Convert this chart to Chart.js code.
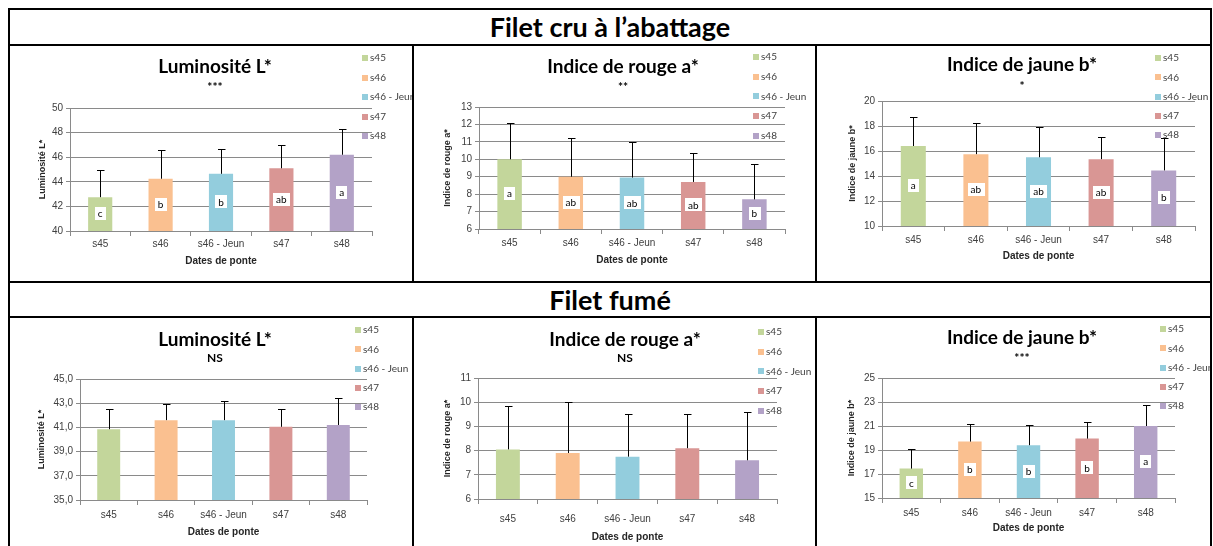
<!DOCTYPE html>
<html lang="fr">
<head>
<meta charset="utf-8">
<title>Couleur des filets</title>
<script src="https://cdn.jsdelivr.net/npm/chart.js@4.4.1/dist/chart.umd.min.js"></script>
<style>
    html, body { margin: 0; padding: 0; background: #fff; }
    body { width: 1213px; height: 546px; position: relative; overflow: hidden; font-family: Lato, 'Open Sans', sans-serif; }
    .line { position: absolute; background: #000; }
    .head { position: absolute; left: 10px; width: 1200px; text-align: center; font-weight: bold; font-size: 27px; color: #000; }
    canvas { position: absolute; }
</style>
</head>
<body>
<div class="head" style="top:10px;height:34px;line-height:34px;">Filet cru à l’abattage</div>
<div class="head" style="top:283px;height:33px;line-height:33px;">Filet fumé</div>

<!-- table borders -->
<div class="line" style="left:8px;top:8px;width:1204px;height:2px;"></div>
<div class="line" style="left:8px;top:8px;width:2px;height:538px;"></div>
<div class="line" style="left:1210px;top:8px;width:2px;height:538px;"></div>
<div class="line" style="left:8px;top:44px;width:1204px;height:2px;"></div>
<div class="line" style="left:8px;top:281px;width:1204px;height:2px;"></div>
<div class="line" style="left:8px;top:316px;width:1204px;height:2px;"></div>
<div class="line" style="left:412px;top:44px;width:2px;height:239px;"></div>
<div class="line" style="left:815px;top:44px;width:2px;height:239px;"></div>
<div class="line" style="left:412px;top:316px;width:2px;height:230px;"></div>
<div class="line" style="left:815px;top:316px;width:2px;height:230px;"></div>

<script>
// Colour charts for fillets, by laying date
// Values

const categories = ['s45', 's46', 's46 - Jeun', 's47', 's48'];

// Filet cru à l'abattage
const rawLightness = [42.75, 44.25, 44.65, 45.1, 46.2];
const rawLightnessErr = [2.2, 2.3, 2.05, 1.9, 2.1];
const rawLightnessGroups = ['c', 'b', 'b', 'ab', 'a'];
const rawLightnessTicks = [40, 42, 44, 46, 48, 50];

const rawRed = [10.0, 9.0, 8.95, 8.7, 7.7];
const rawRedErr = [2.1, 2.2, 2.05, 1.65, 2.05];
const rawRedGroups = ['a', 'ab', 'ab', 'ab', 'b'];
const rawRedTicks = [6, 7, 8, 9, 10, 11, 12, 13];

const rawYellow = [16.4, 15.75, 15.5, 15.35, 14.45];
const rawYellowErr = [2.35, 2.5, 2.45, 1.8, 2.6];
const rawYellowGroups = ['a', 'ab', 'ab', 'ab', 'b'];
const rawYellowTicks = [10, 12, 14, 16, 18, 20];

// Filet fumé
const smokedLightness = [40.85, 41.6, 41.6, 41.05, 41.2];
const smokedLightnessErr = [1.65, 1.3, 1.6, 1.5, 2.2];
const smokedLightnessTicks = [35, 37, 39, 41, 43, 45];

const smokedRed = [8.05, 7.9, 7.75, 8.1, 7.6];
const smokedRedErr = [1.8, 2.1, 1.75, 1.4, 2.0];
const smokedRedTicks = [6, 7, 8, 9, 10, 11];

const smokedYellow = [17.45, 19.7, 19.4, 19.95, 21.0];
const smokedYellowErr = [1.65, 1.45, 1.65, 1.35, 1.75];
const smokedYellowGroups = ['c', 'b', 'b', 'b', 'a'];
const smokedYellowTicks = [15, 17, 19, 21, 23, 25];

const barColors = ['#C3D69B', '#FAC090', '#93CDDD', '#D99694', '#B3A2C7'];
const gridColor = '#8a8a8a';
const textColor = '#404040';

// Page placement of each chart (page pixels)
const boxes = {
    rawL:    { cell: [10, 46, 402, 235],  plot: [70, 372, 108, 231],  title: [215, 67],  subY: 84,  yTitleX: 43,  xTickY: 244, xTitleY: 261, legend: [362, 58, 19.5] },
    rawA:    { cell: [414, 46, 401, 235], plot: [479, 785, 107, 229], title: [623, 67],  subY: 84,  yTitleX: 448, xTickY: 243, xTitleY: 260, legend: [753, 57, 19.7] },
    rawB:    { cell: [817, 46, 393, 235], plot: [882, 1195, 101, 226], title: [1022, 65], subY: 83, yTitleX: 853, xTickY: 240, xTitleY: 256, legend: [1155, 58, 19.3] },
    smokedL: { cell: [10, 318, 402, 228], plot: [80, 367, 379, 500],  title: [215, 340], subY: 358, yTitleX: 42,  xTickY: 515, xTitleY: 532, legend: [355, 330, 19.3] },
    smokedA: { cell: [414, 318, 401, 228], plot: [478, 777, 378, 499], title: [625, 340], subY: 358, yTitleX: 448, xTickY: 519, xTitleY: 537, legend: [758, 332, 19.7] },
    smokedB: { cell: [817, 318, 393, 228], plot: [882, 1175, 378, 498], title: [1022, 338], subY: 355, yTitleX: 852, xTickY: 513, xTitleY: 528, legend: [1160, 329, 19.3] }
};

const chartDefs = [
    { box: 'rawL', title: 'Luminosité L*', signif: '***', values: rawLightness, errors: rawLightnessErr, groups: rawLightnessGroups, ticks: rawLightnessTicks, decimals: 0 },
    { box: 'rawA', title: 'Indice de rouge a*', signif: '**', values: rawRed, errors: rawRedErr, groups: rawRedGroups, ticks: rawRedTicks, decimals: 0 },
    { box: 'rawB', title: 'Indice de jaune b*', signif: '*', values: rawYellow, errors: rawYellowErr, groups: rawYellowGroups, ticks: rawYellowTicks, decimals: 0 },
    { box: 'smokedL', title: 'Luminosité L*', signif: 'NS', values: smokedLightness, errors: smokedLightnessErr, groups: null, ticks: smokedLightnessTicks, decimals: 1 },
    { box: 'smokedA', title: 'Indice de rouge a*', signif: 'NS', values: smokedRed, errors: smokedRedErr, groups: null, ticks: smokedRedTicks, decimals: 0 },
    { box: 'smokedB', title: 'Indice de jaune b*', signif: '***', values: smokedYellow, errors: smokedYellowErr, groups: smokedYellowGroups, ticks: smokedYellowTicks, decimals: 0 }
];

const fontFamily = "Lato, 'Open Sans', sans-serif";

// Error bars, group letters, titles and the legend, Excel style
const excelExtras = {
    id: 'excelExtras',
    afterDatasetsDraw(chart, args, opts) {
        const ctx = chart.ctx;
        const meta = chart.getDatasetMeta(0);
        const yScale = chart.scales.y;
        const data = chart.data.datasets[0].data;

        ctx.save();
        // group letters in white boxes, centred in the bar
        if (opts.groups) {
            ctx.font = '10px ' + fontFamily;
            ctx.textAlign = 'center';
            ctx.textBaseline = 'middle';
            meta.data.forEach((bar, i) => {
                const y = yScale.getPixelForValue((yScale.min + data[i]) / 2);
                const w = ctx.measureText(opts.groups[i]).width + 6;
                ctx.fillStyle = '#fff';
                ctx.fillRect(Math.round(bar.x - w / 2), Math.round(y - 7), Math.round(w), 13);
                ctx.fillStyle = '#000';
                ctx.fillText(opts.groups[i], bar.x, y);
            });
        }

        // positive error bars
        ctx.strokeStyle = '#000';
        ctx.lineWidth = 1;
        meta.data.forEach((bar, i) => {
            const yTop = Math.round(yScale.getPixelForValue(data[i] + opts.errors[i])) + 0.5;
            const x = Math.round(bar.x) + 0.5;
            ctx.beginPath();
            ctx.moveTo(x, bar.y);
            ctx.lineTo(x, yTop);
            ctx.moveTo(x - 3.5, yTop);
            ctx.lineTo(x + 4, yTop);
            ctx.stroke();
        });
        ctx.restore();
    },
    afterDraw(chart, args, opts) {
        const ctx = chart.ctx;
        ctx.save();

        // title and significance
        ctx.fillStyle = '#000';
        ctx.textAlign = 'center';
        ctx.textBaseline = 'middle';
        ctx.font = 'bold 19px ' + fontFamily;
        ctx.fillText(opts.title, opts.titleX, opts.titleY);
        // asterisks sit high in the font, nudge them down
        const starShift = opts.signif.indexOf('*') >= 0 ? 3 : 0;
        ctx.font = 'bold 12px ' + fontFamily;
        ctx.fillText(opts.signif, opts.titleX, opts.subY + starShift);

        // legend, one entry per bar
        ctx.textAlign = 'left';
        ctx.font = '10px ' + fontFamily;
        chart.data.labels.forEach((label, i) => {
            const y = opts.legendY + i * opts.legendGap;
            ctx.fillStyle = barColors[i];
            ctx.fillRect(opts.legendX, Math.round(y - 3), 6, 6);
            ctx.fillStyle = textColor;
            ctx.fillText(label, opts.legendX + 8, y);
        });
        ctx.restore();
    }
};

document.addEventListener('DOMContentLoaded', function() {
    chartDefs.forEach(buildChart);
});

function buildChart(def) {
    const b = boxes[def.box];
    const left = b.cell[0], top = b.cell[1], width = b.cell[2], height = b.cell[3];

    const canvas = document.createElement('canvas');
    canvas.width = width;
    canvas.height = height;
    canvas.style.left = left + 'px';
    canvas.style.top = top + 'px';
    document.body.appendChild(canvas);

    // fix the plot area where the original has it
    const yAxisLeft = b.yTitleX - 6;
    const yAxisWidth = b.plot[0] - yAxisLeft;
    const xAxisBottom = b.xTitleY + 6;
    const xAxisHeight = xAxisBottom - b.plot[3];
    const tickPadding = b.xTickY - b.plot[3] - 5 - 6;

    const t = def.ticks;

    new Chart(canvas, {
        type: 'bar',
        data: {
            labels: categories,
            datasets: [{
                data: def.values,
                backgroundColor: barColors,
                borderWidth: 0,
                barPercentage: 0.4,
                categoryPercentage: 1.0
            }]
        },
        options: {
            responsive: false,
            animation: false,
            devicePixelRatio: 1,
            layout: {
                padding: {
                    left: yAxisLeft - left,
                    right: left + width - b.plot[1],
                    top: b.plot[2] - top,
                    bottom: top + height - xAxisBottom
                }
            },
            plugins: {
                legend: { display: false },
                tooltip: { enabled: false },
                excelExtras: {
                    errors: def.errors,
                    groups: def.groups,
                    title: def.title,
                    signif: def.signif,
                    titleX: b.title[0] - left,
                    titleY: b.title[1] - top,
                    subY: b.subY - top,
                    legendX: b.legend[0] - left,
                    legendY: b.legend[1] - top,
                    legendGap: b.legend[2]
                }
            },
            scales: {
                x: {
                    grid: { offset: true, drawOnChartArea: false, tickLength: 5, color: gridColor },
                    border: { color: gridColor },
                    ticks: {
                        color: textColor,
                        padding: tickPadding,
                        maxRotation: 0,
                        autoSkip: false,
                        font: { size: 10, lineHeight: '12px' }
                    },
                    title: {
                        display: true,
                        text: 'Dates de ponte',
                        color: '#262626',
                        padding: 0,
                        font: { size: 10, weight: 'bold', lineHeight: '12px' }
                    },
                    afterFit: function(scale) { scale.height = xAxisHeight; }
                },
                y: {
                    min: t[0],
                    max: t[t.length - 1],
                    grid: { color: gridColor, tickLength: 4 },
                    border: { color: gridColor },
                    ticks: {
                        stepSize: t[1] - t[0],
                        color: textColor,
                        padding: 3,
                        font: { size: 10 },
                        callback: function(value) {
                            return def.decimals ? value.toFixed(def.decimals).replace('.', ',') : value;
                        }
                    },
                    title: {
                        display: true,
                        text: def.title,
                        color: '#262626',
                        padding: 0,
                        font: { size: 9, weight: 'bold', lineHeight: '12px' }
                    },
                    afterFit: function(scale) { scale.width = yAxisWidth; }
                }
            }
        },
        plugins: [excelExtras]
    });
}
</script>
</body>
</html>
